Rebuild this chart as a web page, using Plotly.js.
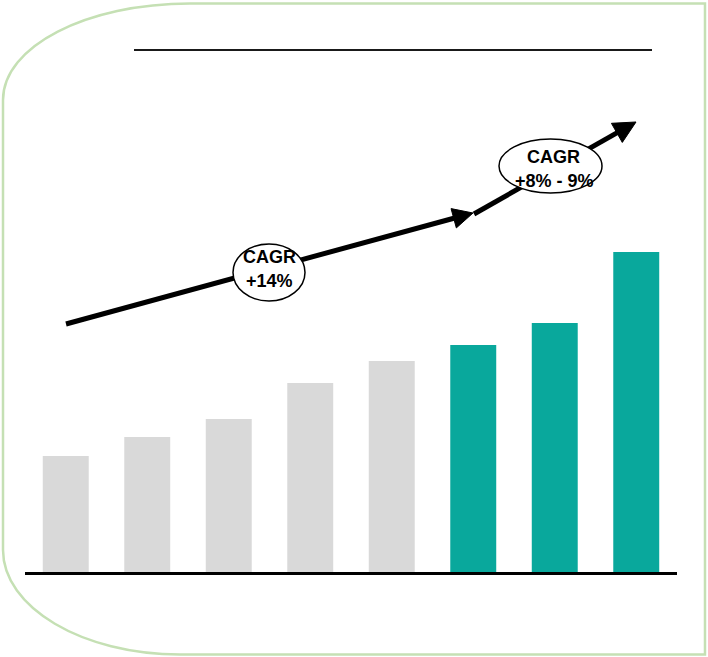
<!DOCTYPE html>
<html>
<head>
<meta charset="utf-8">
<script src="https://cdn.plot.ly/plotly-3.0.1.min.js"></script>
<style>html,body{margin:0;padding:0;background:#fff;}#chart{width:708px;height:657px;}</style>
</head>
<body>
<div id="chart"></div>
<script>
// ---- data ----
var categories = ['1', '2', '3', '4', '5', '6', '7', '8'];
var historicValues = [116, 135, 153, 189, 211, null, null, null];
var forecastValues = [null, null, null, null, null, 227, 249, 320];
var cagrLabels1 = ['CAGR', '+14%'];
var cagrLabels2 = ['CAGR', '+8% - 9%'];

// ---- layout geometry helpers (pixel -> paper) ----
var W = 708, H = 657;
var mL = 25, mR = 31, mT = 30, mB = 85;
var pw = W - mL - mR, ph = H - mT - mB;
function px(x) { return (x - mL) / pw; }
function py(y) { return (H - mB - y) / ph; }
function pt(x, y) { return px(x).toFixed(5) + ',' + py(y).toFixed(5); }

var GREY = '#D9D9D9', TEAL = '#09A89C', BORDER = '#C5E0B4';

// border path
var k = 0.5523;
var border = 'M' + pt(3, 100) +
  ' L' + pt(3, 550) +
  ' C' + pt(3, 550 + k * 104) + ' ' + pt(180 - k * 177, 654.5) + ' ' + pt(180, 654.5) +
  ' L' + pt(705, 654.5) +
  ' L' + pt(705, 3.5) +
  ' L' + pt(190, 3.5) +
  ' C' + pt(190 - k * 187, 3.5) + ' ' + pt(3, 100 - k * 97) + ' ' + pt(3, 100) + ' Z';

function arrow(x0, y0, x1, y1, L, w) {
  var dx = x1 - x0, dy = y1 - y0, len = Math.sqrt(dx * dx + dy * dy);
  var ux = dx / len, uy = dy / len, nx = -uy, ny = ux;
  var bx = x1 - L * ux, by = y1 - L * uy;
  var line = {type: 'line', xref: 'paper', yref: 'paper', x0: px(x0), y0: py(y0), x1: px(bx + 2 * ux), y1: py(by + 2 * uy),
    line: {color: '#000', width: 5}, layer: 'above'};
  var head = {type: 'path', xref: 'paper', yref: 'paper', layer: 'above',
    path: 'M' + pt(x1, y1) + ' L' + pt(bx + w * nx, by + w * ny) + ' L' + pt(bx - w * nx, by - w * ny) + ' Z',
    fillcolor: '#000', line: {color: '#000', width: 1}};
  return [line, head];
}

var shapes = [];
shapes.push({type: 'path', xref: 'paper', yref: 'paper', path: border, line: {color: BORDER, width: 2.5}, layer: 'below'});
shapes.push({type: 'line', xref: 'paper', yref: 'paper', x0: px(134), x1: px(652), y0: py(50), y1: py(50), line: {color: '#1a1a1a', width: 2}});
shapes = shapes.concat(arrow(66, 324, 473, 213, 20, 10));
shapes = shapes.concat(arrow(474, 214, 636, 122, 22, 11));
shapes.push({type: 'circle', xref: 'paper', yref: 'paper', x0: px(233), x1: px(305), y0: py(301), y1: py(244),
  fillcolor: '#fff', line: {color: '#000', width: 1.5}, layer: 'above'});
shapes.push({type: 'circle', xref: 'paper', yref: 'paper', x0: px(499), x1: px(602), y0: py(193), y1: py(139),
  fillcolor: '#fff', line: {color: '#000', width: 1.5}, layer: 'above'});

var font = {family: 'Liberation Sans, Arial, sans-serif', size: 18, color: '#000'};
function lbl(text, x, y) {
  return {text: '<b>' + text + '</b>', xref: 'paper', yref: 'paper', x: px(x), y: py(y),
    xanchor: 'center', yanchor: 'middle', showarrow: false, font: font};
}
var annotations = [
  lbl(cagrLabels1[0], 269, 257), lbl(cagrLabels1[1], 269, 281),
  lbl(cagrLabels2[0], 553, 157), lbl(cagrLabels2[1], 554, 181)
];

var traces = [
  {type: 'bar', x: categories, y: historicValues, marker: {color: GREY}, hoverinfo: 'y'},
  {type: 'bar', x: categories, y: forecastValues, marker: {color: TEAL}, hoverinfo: 'y'}
];

var layout = {
  width: W, height: H,
  margin: {l: mL, r: mR, t: mT, b: mB, pad: 0},
  paper_bgcolor: '#fff', plot_bgcolor: '#fff',
  showlegend: false,
  barmode: 'overlay',
  bargap: 0.436,
  xaxis: {type: 'category', range: [-0.5, 7.5], showline: true, linecolor: '#000', linewidth: 2.5,
    showticklabels: false, ticks: '', showgrid: false, zeroline: false, fixedrange: true},
  yaxis: {range: [0, ph], visible: false, showgrid: false, zeroline: false, fixedrange: true},
  shapes: shapes,
  annotations: annotations
};

Plotly.newPlot('chart', traces, layout, {displayModeBar: false, staticPlot: true});
</script>
</body>
</html>
